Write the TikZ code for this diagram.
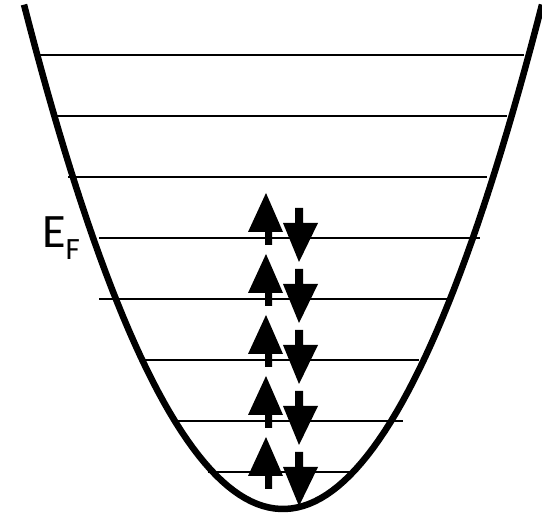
\documentclass[tikz,border=0pt]{standalone}
\usepackage{fontspec}
\setmainfont{Carlito}
\usepackage{tikz}

\begin{document}
\begin{tikzpicture}[x=1pt,y=-1pt,
  well/.style={line width=6.5pt},
  level/.style={line width=1.8pt},
  spin/.style={fill=black}]
\useasboundingbox (0,0) rectangle (542,516);
% energy levels
\draw[level] (40,55) -- (524,55);
\draw[level] (53,116) -- (507,116);
\draw[level] (68,177) -- (487,177);
\draw[level] (99,238) -- (480,238);
\draw[level] (99,299) -- (447,299);
\draw[level] (145,360) -- (419,360);
\draw[level] (178,421) -- (403,421);
\draw[level] (208,472) -- (357,472);
% potential well
\draw[well] plot[domain=-259:259, samples=90] ({283+\x}, {509-((\x/10)^2)/1.33});
% Fermi level label
\node[font=\fontsize{48}{50}\selectfont, anchor=base west, inner sep=0pt] (fermi) at (42,248)
  {E\raisebox{-12pt}{\fontsize{31}{31}\selectfont F}};
% spin pairs
\fill[spin] (265,245) -- (272,245) -- (272,232) -- (283,232) -- (266,193) -- (248,232) -- (265,232) -- cycle;
\fill[spin] (295,208) -- (303,208) -- (303,223) -- (318,223) -- (299,262) -- (283,223) -- (295,223) -- cycle;
\fill[spin, shift={(0,61)}] (265,245) -- (272,245) -- (272,232) -- (283,232) -- (266,193) -- (248,232) -- (265,232) -- cycle;
\fill[spin, shift={(0,61)}] (295,208) -- (303,208) -- (303,223) -- (318,223) -- (299,262) -- (283,223) -- (295,223) -- cycle;
\fill[spin, shift={(0,122)}] (265,245) -- (272,245) -- (272,232) -- (283,232) -- (266,193) -- (248,232) -- (265,232) -- cycle;
\fill[spin, shift={(0,122)}] (295,208) -- (303,208) -- (303,223) -- (318,223) -- (299,262) -- (283,223) -- (295,223) -- cycle;
\fill[spin, shift={(0,183)}] (265,245) -- (272,245) -- (272,232) -- (283,232) -- (266,193) -- (248,232) -- (265,232) -- cycle;
\fill[spin, shift={(0,183)}] (295,208) -- (303,208) -- (303,223) -- (318,223) -- (299,262) -- (283,223) -- (295,223) -- cycle;
\fill[spin, shift={(0,244)}] (265,245) -- (272,245) -- (272,232) -- (283,232) -- (266,193) -- (248,232) -- (265,232) -- cycle;
\fill[spin, shift={(0,244)}] (295,208) -- (303,208) -- (303,223) -- (318,223) -- (299,262) -- (283,223) -- (295,223) -- cycle;
\end{tikzpicture}
\end{document}
